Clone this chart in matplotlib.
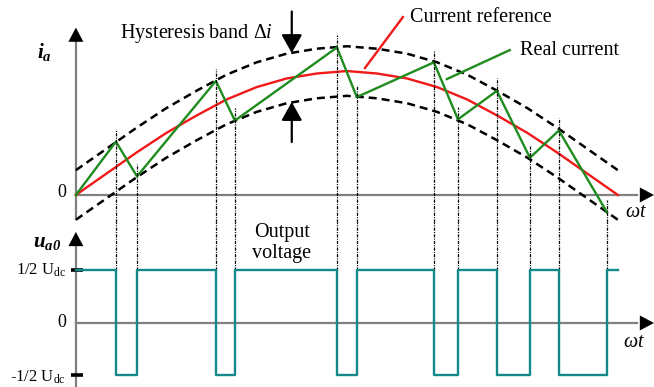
import numpy as np
import matplotlib
matplotlib.use('Agg')
import matplotlib.pyplot as plt

plt.rcParams['font.family'] = 'Liberation Serif'
plt.rcParams['mathtext.fontset'] = 'custom'
plt.rcParams['mathtext.rm'] = 'Liberation Serif'
plt.rcParams['mathtext.it'] = 'Liberation Serif:italic'
plt.rcParams['mathtext.bf'] = 'Liberation Serif:italic:bold'

# reference current (every 10 deg of wt)
ref_angle = [0, 10, 20, 30, 40, 50, 60, 70, 80, 90, 100, 110, 120, 130, 140, 150, 160, 170, 180]
ref_value = [0, 0.17, 0.34, 0.50, 0.64, 0.77, 0.87, 0.94, 0.98, 1.00,
             0.98, 0.94, 0.87, 0.77, 0.64, 0.50, 0.34, 0.17, 0]
band_half = 0.2  # half of the hysteresis band

# switching instants of the real current and the current there
switch_angle = [13.3, 20.3, 46.5, 52.8, 86.7, 93.3, 118.9, 126.9, 139.8, 150.8, 160.4, 176.4]
switch_current = [0.43, 0.15, 0.92, 0.60, 1.19, 0.79, 1.07, 0.61, 0.84, 0.30, 0.52, -0.14]

u_levels = [0.5, -0.5]  # +1/2 Udc, -1/2 Udc

GRAY = '#808080'
RED = '#f01818'
GREEN = '#1e8c1e'
TEAL = '#13898a'

fig = plt.figure(figsize=(6.54, 3.87), dpi=100)
ax1 = fig.add_axes([0, 165 / 387, 1, 222 / 387])
ax2 = fig.add_axes([0, 0, 1, 165 / 387])
xlim = (-25.2, 192.0)
ax1.set_xlim(*xlim)
ax1.set_ylim(-0.218, 1.573)
ax2.set_xlim(*xlim)
ax2.set_ylim(-0.610, 0.962)
for ax in (ax1, ax2):
    ax.axis('off')


def arrow_head(ax, tip, base):
    ax.annotate('', xy=tip, xytext=base,
                arrowprops=dict(arrowstyle='-|>,head_length=0.85,head_width=0.45',
                                mutation_scale=12, color='black', lw=0,
                                shrinkA=0, shrinkB=0))


# axes of the current plot
ax1.plot([0, 0], [-0.194, 1.26], color=GRAY, lw=1.6)
ax1.plot([0, 186.5], [0, 0], color=GRAY, lw=1.6)
arrow_head(ax1, (0, 1.35), (0, 1.23))
arrow_head(ax1, (192.0, 0), (186.5, 0))

# axes of the voltage plot
ax2.plot([0, 0], [-0.62, 0.75], color=GRAY, lw=1.6)
ax2.plot([0, 186.5], [0, 0], color=GRAY, lw=1.6)
arrow_head(ax2, (0, 0.867), (0, 0.73))
arrow_head(ax2, (192.0, 0), (186.5, 0))
for u in u_levels:
    ax2.plot(0.5, u, marker='_', ms=8, mew=2.6, color='black')

# hysteresis band and reference
ref = np.array(ref_value)
ax1.plot(ref_angle, ref + band_half, color='black', lw=1.8, ls=(0, (3.2, 2.0)))
ax1.plot(ref_angle, ref - band_half, color='black', lw=1.8, ls=(0, (3.2, 2.0)))
ax1.plot(ref_angle, ref, color=RED, lw=1.7)

# real current
ax1.plot([0] + switch_angle, [0] + switch_current, color=GREEN, lw=1.7)

# guide lines at switching instants
for a, c in zip(switch_angle, switch_current):
    ax1.vlines(a, -0.218, c + 0.1, color='black', lw=0.9,
               linestyles=(0, (2.5, 1.0, 0.8, 1.0)), clip_on=False)
    ax2.vlines(a, u_levels[0], 0.962, color='black', lw=0.9,
               linestyles=(0, (2.5, 1.0, 0.8, 1.0)), clip_on=False)

# output voltage: high until the first switch, then alternating
edges = [0] + switch_angle + [180]
levels = [u_levels[i % 2] for i in range(len(edges) - 1)]
ax2.step(edges, levels + [levels[-1]], where='post', color=TEAL, lw=1.7)

# band arrows
ax1.annotate('', xy=(71.7, 1.145), xytext=(71.7, 1.48),
             arrowprops=dict(arrowstyle='-|>,head_length=0.8,head_width=0.45',
                             mutation_scale=14, color='black', lw=1.6,
                             shrinkA=0, shrinkB=0))
ax1.annotate('', xy=(71.7, 0.75), xytext=(71.7, 0.427),
             arrowprops=dict(arrowstyle='-|>,head_length=0.8,head_width=0.45',
                             mutation_scale=14, color='black', lw=1.6,
                             shrinkA=0, shrinkB=0))

# labels
fs = 14.5
ax1.text(14.6, 1.306, r'Hysteresis band $\Delta \mathit{i}$', fontsize=fs, va='center')
ax1.text(-10.3, 1.153, r'$\mathbf{i_a}$', fontsize=15, ha='center', va='center')
ax1.text(-3.3, 0.02, '0', fontsize=13, ha='right', va='center')
ax1.text(110.9, 1.435, 'Current reference', fontsize=fs, va='center')
ax1.text(147.5, 1.169, 'Real current', fontsize=fs, va='center')
ax1.plot([96.0, 108.6], [1.024, 1.435], color=RED, lw=1.7)
ax1.plot([123.2, 144.1], [0.935, 1.169], color=GREEN, lw=1.7)
ax1.text(186.0, -0.145, r'$\omega t$', fontsize=fs, ha='center', va='center')

ax2.text(-9.6, 0.771, r'$\mathbf{u_{a0}}$', fontsize=15, ha='center', va='center')
ax2.text(68.4, 0.762, 'Output\nvoltage', fontsize=fs, ha='center', va='center',
         linespacing=1.1)
ax2.text(-3.3, 0.5, r'1/2 U$_{\rm dc}$', fontsize=12, ha='right', va='center')
ax2.text(-3.3, 0.0, '0', fontsize=13, ha='right', va='center')
ax2.text(-3.3, -0.514, r'-1/2 U$_{\rm dc}$', fontsize=12, ha='right', va='center')
ax2.text(185.3, -0.19, r'$\omega t$', fontsize=fs, ha='center', va='center')

fig.savefig('out.png', dpi=100)
